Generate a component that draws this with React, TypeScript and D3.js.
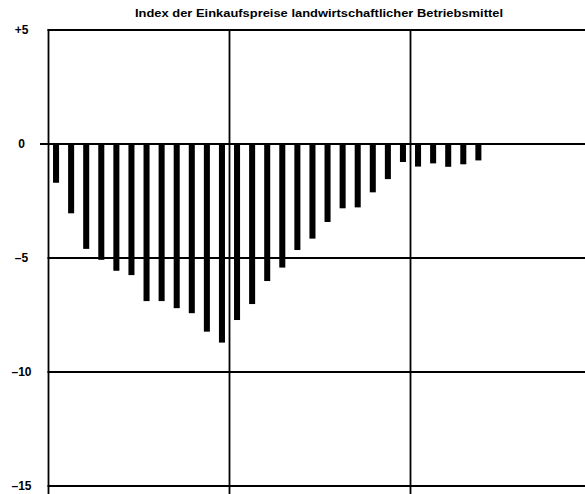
import * as d3 from "d3";

// monthly change in percent, 3 years x 12 months (last 7 months missing)
const years = ["J1", "J2", "J3"];
const months = ["1", "2", "3", "4", "5", "6", "7", "8", "9", "10", "11", "12"];
const values = [
  -1.7, -3.04, -4.6, -5.08, -5.56, -5.75, -6.89, -6.89, -7.2, -7.42, -8.23, -8.71,
  -7.72, -7.02, -6.01, -5.42, -4.65, -4.15, -3.42, -2.82, -2.78, -2.12, -1.54, -0.79,
  -0.99, -0.85, -1.0, -0.89, -0.72,
];
const yTicks = [5, 0, -5, -10, -15];
const tickLabels = ["+5", "0", "\u20135", "\u201310", "\u201315"];
const title = "Index der Einkaufspreise landwirtschaftlicher Betriebsmittel";

const W = 585;
const H = 494;

export default function App() {
  const categories = years.flatMap((y) => months.map((m) => `${m}/${y}`));
  const left = 48.5;
  const yearWidth = 181;

  const x = d3
    .scaleBand<string>()
    .domain(categories)
    .range([left, left + yearWidth * years.length])
    .paddingInner(0.6)
    .paddingOuter(0.3);
  const y = d3.scaleLinear().domain([5, -15]).range([30, 486]);

  const yearX = d3
    .scaleBand<string>()
    .domain(years)
    .range([left, left + yearWidth * years.length]);

  const font = "'Liberation Sans', Arial, sans-serif";

  return (
    <svg
      width={W}
      height={H}
      style={{ position: "absolute", left: 0, top: 0, background: "#fff" }}
    >
      <text
        x={319}
        y={17}
        textAnchor="middle"
        fontFamily={font}
        fontWeight="bold"
        fontSize={11.5}
        textLength={368}
        lengthAdjust="spacingAndGlyphs"
        fill="#000"
      >
        {title}
      </text>

      {/* horizontal grid lines */}
      {yTicks.map((t) => (
        <line
          key={"h" + t}
          x1={t === 0 ? 40 : left - 1}
          x2={W}
          y1={y(t)}
          y2={y(t)}
          stroke="#000"
          strokeWidth={t === 0 ? 2 : 1.8}
        />
      ))}

      {/* vertical lines at year boundaries */}
      {years.map((yr) => (
        <line
          key={"v" + yr}
          x1={yearX(yr)!}
          x2={yearX(yr)!}
          y1={y(5) - 1}
          y2={H}
          stroke="#000"
          strokeWidth={1.8}
        />
      ))}

      {/* tick labels */}
      {yTicks.map((t, i) => (
        <text
          key={"l" + t}
          x={21.5}
          y={y(t)}
          dy="0.36em"
          textAnchor="middle"
          fontFamily={font}
          fontWeight="bold"
          fontSize={12}
          fill="#000"
        >
          {tickLabels[i]}
        </text>
      ))}

      {/* bars */}
      {values.map((v, i) => (
        <rect
          key={"b" + i}
          x={x(categories[i])!}
          y={y(0)}
          width={x.bandwidth()}
          height={y(v) - y(0)}
          fill="#000"
        />
      ))}
    </svg>
  );
}
